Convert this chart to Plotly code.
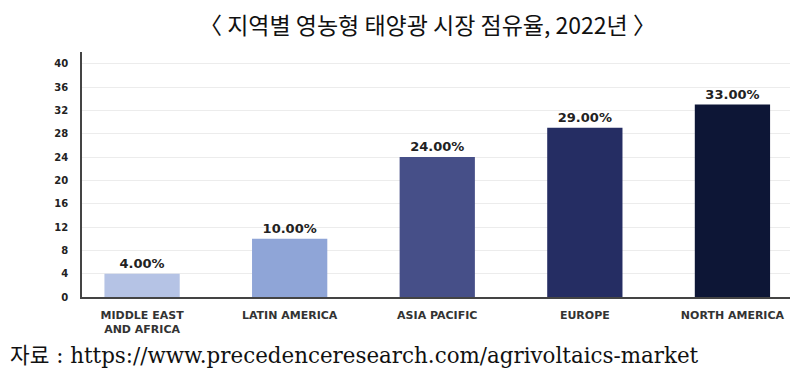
import plotly.graph_objects as go

categories = ["MIDDLE EAST<br>AND AFRICA", "LATIN AMERICA", "ASIA PACIFIC", "EUROPE", "NORTH AMERICA"]
shares = [4, 10, 24, 29, 33]
bar_labels = ["4.00%", "10.00%", "24.00%", "29.00%", "33.00%"]
bar_colors = ["#b5c3e5", "#8fa5d7", "#464f88", "#252d63", "#0d1636"]
y_ticks = [0, 4, 8, 12, 16, 20, 24, 28, 32, 36, 40]

fig = go.Figure(go.Bar(
    x=categories, y=shares, text=bar_labels, textposition="outside",
    marker=dict(color=bar_colors, line=dict(width=0)),
    width=0.51, cliponaxis=False,
    textfont=dict(family="DejaVu Sans", size=13, color="#222222", weight="bold"),
))

fig.update_layout(
    width=800, height=380,
    margin=dict(l=82, r=10, t=52, b=83),
    paper_bgcolor="white", plot_bgcolor="white",
    showlegend=False,
    bargap=0.49,
)
fig.update_xaxes(
    range=[-0.407, 4.39], showgrid=False, showline=True, linecolor="#444444", linewidth=1.5,
    ticks="", tickangle=0, ticklabelstandoff=7,
    tickfont=dict(family="DejaVu Sans", size=11, color="#333333", weight="bold"),
)
fig.update_yaxes(
    range=[0, 42], tickvals=y_ticks, showgrid=True, gridcolor="#ececec", gridwidth=1,
    showline=True, linecolor="#444444", linewidth=1.5, ticks="", ticklabelstandoff=10,
    tickfont=dict(family="DejaVu Sans", size=10, color="#222222", weight="bold"), zeroline=False,
)

fig.add_annotation(
    text="〈 지역별 영농형 태양광 시장 점유율, 2022년 〉",
    xref="paper", yref="paper", x=(427 - 82) / 708, y=1 + (52 - 24) / 245,
    xanchor="center", yanchor="middle", showarrow=False,
    font=dict(family="Noto Sans CJK KR", size=23, color="#111111"),
)

fig.add_annotation(
    text="자료 : https://www.precedenceresearch.com/agrivoltaics-market",
    xref="paper", yref="paper", x=(8 - 82) / 708, y=-(355 - 297) / 245,
    xanchor="left", yanchor="middle", showarrow=False,
    font=dict(family="DejaVu Serif, Noto Sans CJK KR", size=21.4, color="#111111"),
)

fig.write_html("out.html", config={"displayModeBar": False},
               post_script="document.body.style.margin='0';")
